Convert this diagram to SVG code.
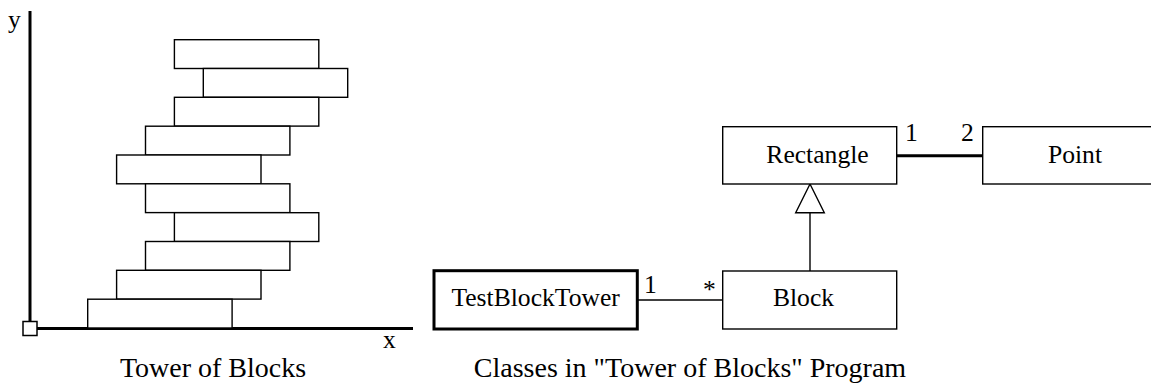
<svg xmlns="http://www.w3.org/2000/svg" width="1151" height="384" viewBox="0 0 1151 384">
<style>
.blk{fill:#fff;stroke:#000;stroke-width:1.4}
.box{fill:#fff;stroke:#000;stroke-width:1.4}
.bold{fill:#fff;stroke:#000;stroke-width:3}
.ax{stroke:#000;stroke-width:3;fill:none}
.ln{stroke:#000;stroke-width:1.4;fill:none}
.thk{stroke:#000;stroke-width:3;fill:none}
.lbl{font-size:25.6px;text-anchor:middle}
.cap{font-size:28px;text-anchor:middle}
.m{font-size:25.6px}
</style>
<g font-family="'Liberation Serif', 'Times New Roman', 'DejaVu Serif', serif" fill="#000">
<g id="tower">
<line class="ax" x1="30" y1="11" x2="30" y2="321"/>
<line class="ax" x1="37" y1="328.5" x2="413" y2="328.5"/>
<rect x="23" y="321.5" width="14" height="14" fill="#fff" stroke="#000" stroke-width="1.5"/>
<rect class="blk" x="174.4" y="39.7" width="144.4" height="28.8"/>
<rect class="blk" x="203.3" y="68.5" width="144.4" height="28.8"/>
<rect class="blk" x="174.4" y="97.3" width="144.4" height="28.8"/>
<rect class="blk" x="145.5" y="126.2" width="144.4" height="28.8"/>
<rect class="blk" x="116.6" y="155.0" width="144.4" height="28.8"/>
<rect class="blk" x="145.5" y="183.8" width="144.4" height="28.8"/>
<rect class="blk" x="174.4" y="212.7" width="144.4" height="28.8"/>
<rect class="blk" x="145.5" y="241.5" width="144.4" height="28.8"/>
<rect class="blk" x="116.6" y="270.3" width="144.4" height="28.8"/>
<rect class="blk" x="87.7" y="299.2" width="144.4" height="28.8"/>
<text class="m" x="8" y="28">y</text>
<text class="m" x="383" y="348">x</text>
<text class="cap" x="213" y="377">Tower of Blocks</text>
</g>
<g id="connectors">
<line class="thk" x1="896.7" y1="155.7" x2="982.7" y2="155.7"/>
<line class="ln" x1="637.3" y1="300" x2="722.7" y2="300"/>
<line class="ln" x1="810" y1="212.7" x2="810" y2="271"/>
<polygon points="810,184 795.7,212.7 824.3,212.7" fill="#fff" stroke="#000" stroke-width="1.4"/>
<text class="m" x="905" y="141">1</text>
<text class="m" x="961" y="141">2</text>
<text class="m" x="644" y="293">1</text>
<text class="m" x="703" y="298">*</text>
</g>
<g id="Rectangle">
<rect class="box" x="722.7" y="126.7" width="174" height="57.3"/>
<text class="lbl" x="817.5" y="163">Rectangle</text>
</g>
<g id="Point">
<rect class="box" x="982.7" y="126.7" width="185" height="57.3"/>
<text class="lbl" x="1075" y="163">Point</text>
</g>
<g id="Block">
<rect class="box" x="722.7" y="271" width="174" height="58"/>
<text class="lbl" x="803.5" y="306">Block</text>
</g>
<g id="TestBlockTower">
<rect class="bold" x="434" y="270.7" width="203.3" height="58.3"/>
<text class="lbl" x="535.6" y="306">TestBlockTower</text>
</g>
<g id="caption">
<text class="cap" x="690" y="377">Classes in "Tower of Blocks" Program</text>
</g>
</g>
</svg>
